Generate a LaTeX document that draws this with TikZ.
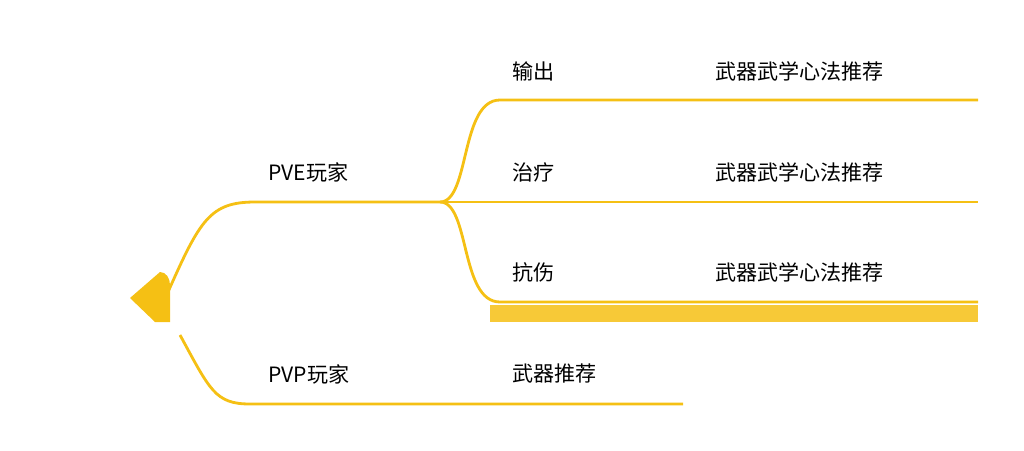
\documentclass[tikz,border=0pt]{standalone}
\usepackage{fontspec}
\setmainfont{Noto Sans CJK SC}
\definecolor{branch}{RGB}{245,192,20}
\begin{document}
\begin{tikzpicture}
    [
    x=0.02cm,y=-0.02cm,
    topic/.style={anchor=west,inner sep=0pt,font=\fontsize{12}{14}\selectfont},
    link/.style={draw=branch,line width=1.6pt},
    ]
    \useasboundingbox (0,0) rectangle (1024,450);
    % root and bar
    \fill [branch] (130,298) -- (160,272) to[out=0,in=90] (170,285) -- (170,322) -- (155,322) -- cycle;
    \fill [branch!85] (490,305) rectangle (978,322);
    \coordinate (root) at (168,292);
    \coordinate (rootb) at (180,335);
    \coordinate (hub) at (440,202);
    \node (pve) at (268,172) [topic] {PVE玩家};
    \node (pvp) at (268,374) [topic] {PVP玩家};
    \node (out) at (512,71) [topic] {输出};
    \node (heal) at (512,172) [topic] {治疗};
    \node (tank) at (512,272) [topic] {抗伤};
    \node (rec1) at (715,71) [topic] {武器武学心法推荐};
    \node (rec2) at (715,172) [topic] {武器武学心法推荐};
    \node (rec3) at (715,272) [topic] {武器武学心法推荐};
    \node (wpn) at (512,374) [topic] {武器推荐};
    \draw [link] (root) .. controls (200,220) and (210,202) .. (255,202) -- (hub);
    \draw [link] (rootb) .. controls (210,390) and (215,404) .. (250,404) -- (683,404);
    \draw [link] (hub) .. controls (470,202) and (460,100) .. (500,100) -- (978,100);
    \draw [link] (hub) -- (978,202);
    \draw [link] (hub) .. controls (470,202) and (460,302) .. (500,302) -- (978,302);
  \end{tikzpicture}
\end{document}
